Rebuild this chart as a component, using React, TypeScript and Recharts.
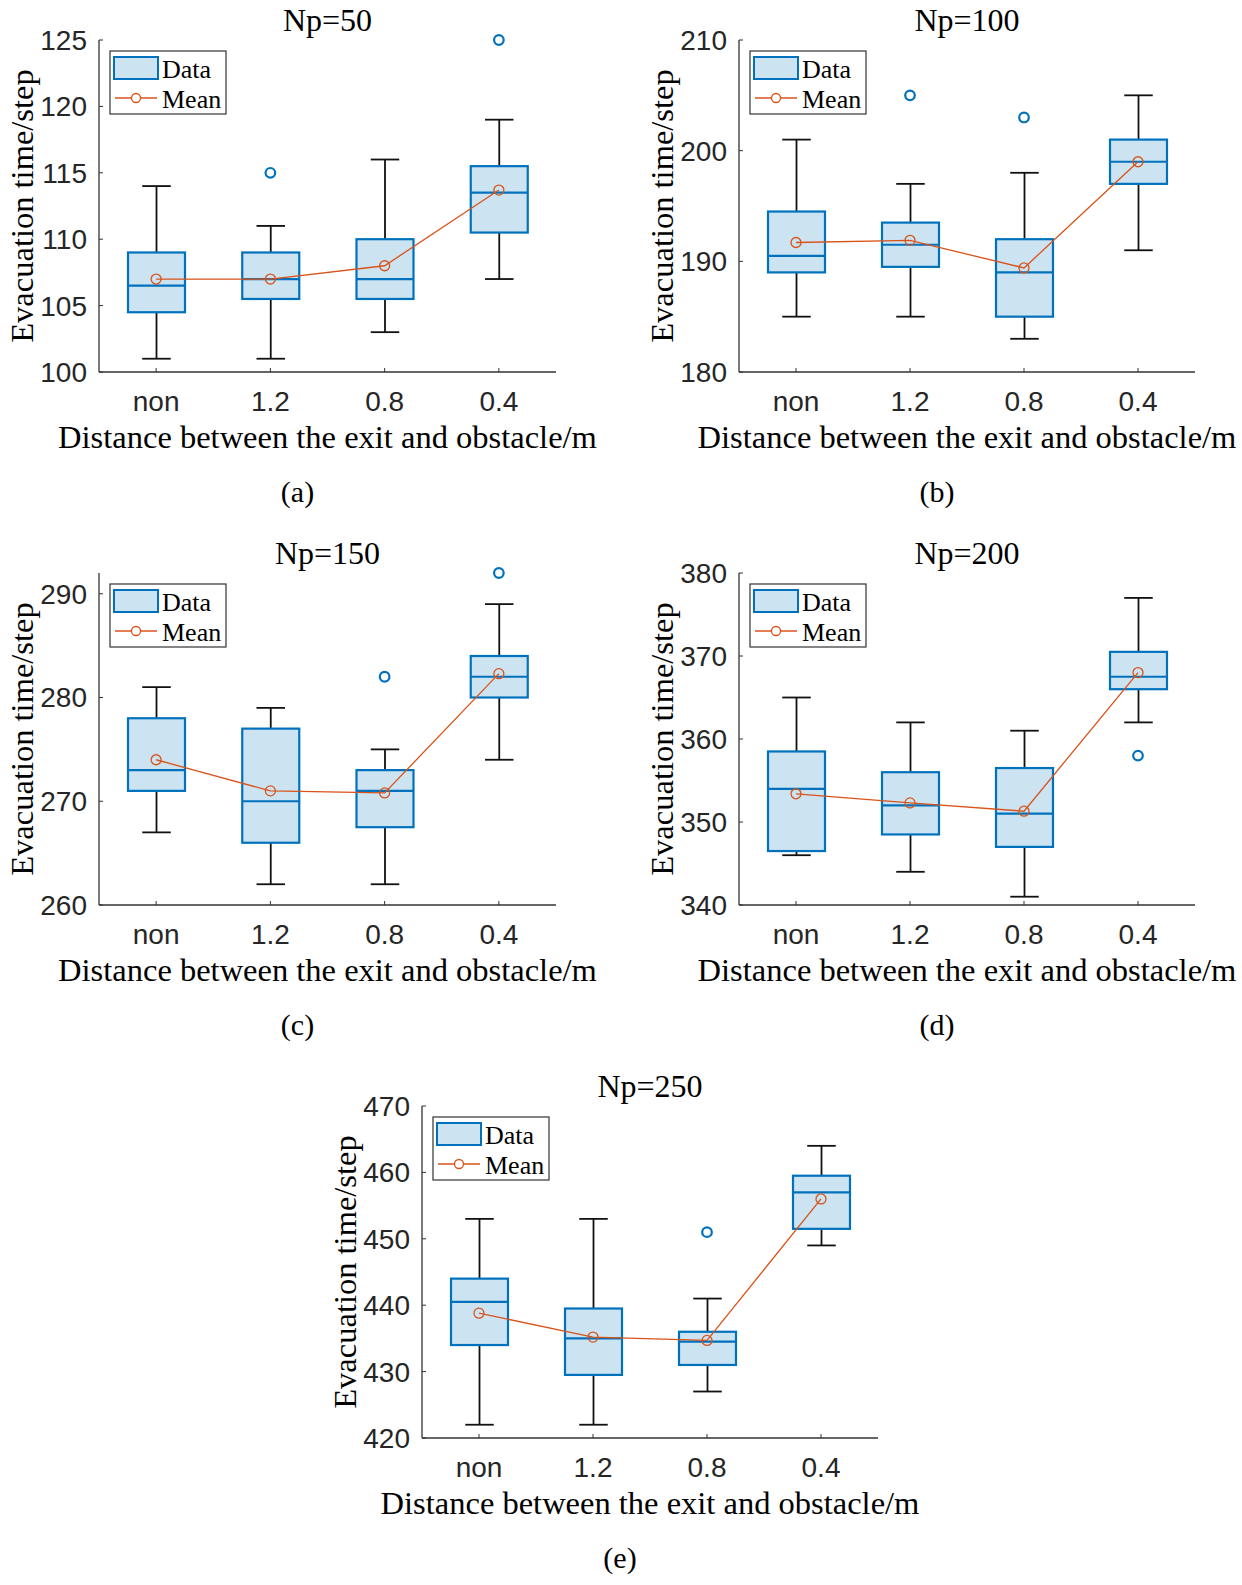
import { ComposedChart, Bar, Line, XAxis, YAxis } from 'recharts'

const CATEGORIES = ['non', '1.2', '0.8', '0.4']

// Np=50
const np50Low = [101, 101, 103, 107]
const np50Q1 = [104.5, 105.5, 105.5, 110.5]
const np50Median = [106.5, 107, 107, 113.5]
const np50Q3 = [109, 109, 110, 115.5]
const np50High = [114, 111, 116, 119]
const np50Mean = [107.0, 107.0, 108.0, 113.7]
const np50Outlier = [null, 115, null, 125]

// Np=100
const np100Low = [185, 185, 183, 191]
const np100Q1 = [189, 189.5, 185, 197]
const np100Median = [190.5, 191.5, 189, 199]
const np100Q3 = [194.5, 193.5, 192, 201]
const np100High = [201, 197, 198, 205]
const np100Mean = [191.7, 191.9, 189.4, 199.0]
const np100Outlier = [null, 205, 203, null]

// Np=150
const np150Low = [267, 262, 262, 274]
const np150Q1 = [271, 266, 267.5, 280]
const np150Median = [273, 270, 271, 282]
const np150Q3 = [278, 277, 273, 284]
const np150High = [281, 279, 275, 289]
const np150Mean = [274.0, 271.0, 270.8, 282.3]
const np150Outlier = [null, null, 282, 292]

// Np=200
const np200Low = [346, 344, 341, 362]
const np200Q1 = [346.5, 348.5, 347, 366]
const np200Median = [354, 352, 351, 367.5]
const np200Q3 = [358.5, 356, 356.5, 370.5]
const np200High = [365, 362, 361, 377]
const np200Mean = [353.4, 352.3, 351.3, 368.0]
const np200Outlier = [null, null, null, 358]

// Np=250
const np250Low = [422, 422, 427, 449]
const np250Q1 = [434, 429.5, 431, 451.5]
const np250Median = [440.5, 435, 434.5, 457]
const np250Q3 = [444, 439.5, 436, 459.5]
const np250High = [453, 453, 441, 464]
const np250Mean = [438.8, 435.2, 434.7, 456.0]
const np250Outlier = [null, null, 451, null]

const np50Ticks = [100, 105, 110, 115, 120, 125]
const np100Ticks = [180, 190, 200, 210]
const np150Ticks = [260, 270, 280, 290]
const np200Ticks = [340, 350, 360, 370, 380]
const np250Ticks = [420, 430, 440, 450, 460, 470]

const BLUE = '#0072BD'
const BOX_FILL = '#cce3f2'
const ORANGE = '#D95319'
const AXIS = '#333333'
const SERIF = '"Liberation Serif", "Times New Roman", serif'
const SANS = '"Liberation Sans", Arial, sans-serif'

const Y_LABEL = 'Evacuation time/step'
const X_LABEL = 'Distance between the exit and obstacle/m'

const panels = [
  {
    title: 'Np=50', caption: '(a)', low: np50Low, q1: np50Q1, med: np50Median, q3: np50Q3,
    high: np50High, mean: np50Mean, out: np50Outlier, domain: [100, 125], ticks: np50Ticks,
    left: 99, top: 40, width: 457, height: 332,
  },
  {
    title: 'Np=100', caption: '(b)', low: np100Low, q1: np100Q1, med: np100Median, q3: np100Q3,
    high: np100High, mean: np100Mean, out: np100Outlier, domain: [180, 210], ticks: np100Ticks,
    left: 739, top: 40, width: 456, height: 332,
  },
  {
    title: 'Np=150', caption: '(c)', low: np150Low, q1: np150Q1, med: np150Median, q3: np150Q3,
    high: np150High, mean: np150Mean, out: np150Outlier, domain: [260, 292], ticks: np150Ticks,
    left: 99, top: 573, width: 457, height: 332,
  },
  {
    title: 'Np=200', caption: '(d)', low: np200Low, q1: np200Q1, med: np200Median, q3: np200Q3,
    high: np200High, mean: np200Mean, out: np200Outlier, domain: [340, 380], ticks: np200Ticks,
    left: 739, top: 573, width: 456, height: 332,
  },
  {
    title: 'Np=250', caption: '(e)', low: np250Low, q1: np250Q1, med: np250Median, q3: np250Q3,
    high: np250High, mean: np250Mean, out: np250Outlier, domain: [420, 470], ticks: np250Ticks,
    left: 422, top: 1106, width: 456, height: 332,
  },
]

type Panel = (typeof panels)[number]

// whiskers, box and median, all placed from the bar's [low, high] extent
function BoxShape(props: any) {
  const { x, y, width, height, payload } = props
  const top = Math.min(y, y + height)
  const span = Math.abs(height)
  const unit = span / (payload.high - payload.low)
  const toY = (v: number) => top + (payload.high - v) * unit
  const cx = x + width / 2
  const cap = width / 4
  const yQ3 = toY(payload.q3)
  const yQ1 = toY(payload.q1)
  const yMed = toY(payload.med)
  const bottom = top + span
  return (
    <g>
      <line x1={cx} x2={cx} y1={top} y2={yQ3} stroke="#111" strokeWidth={1.8} />
      <line x1={cx} x2={cx} y1={yQ1} y2={bottom} stroke="#111" strokeWidth={1.8} />
      <line x1={cx - cap} x2={cx + cap} y1={top} y2={top} stroke="#111" strokeWidth={1.8} />
      <line x1={cx - cap} x2={cx + cap} y1={bottom} y2={bottom} stroke="#111" strokeWidth={1.8} />
      <rect x={x} y={yQ3} width={width} height={yQ1 - yQ3} fill={BOX_FILL} stroke={BLUE} strokeWidth={2.2} />
      <line x1={x} x2={x + width} y1={yMed} y2={yMed} stroke={BLUE} strokeWidth={2.2} />
    </g>
  )
}

function OutlierDot(props: any) {
  const { cx, cy, value, index } = props
  if (value == null || cy == null || isNaN(cy)) return <g key={`o-${index}`} />
  return <circle key={`o-${index}`} cx={cx} cy={cy} r={4.8} fill="none" stroke={BLUE} strokeWidth={2.2} />
}

const ML = 95
const MT = 30
const MR = 20
const MB = 60

function BoxPanel({ p }: { p: Panel }) {
  const data = CATEGORIES.map((cat, i) => ({
    cat,
    range: [p.low[i], p.high[i]],
    low: p.low[i],
    q1: p.q1[i],
    med: p.med[i],
    q3: p.q3[i],
    high: p.high[i],
    mean: p.mean[i],
    out: p.out[i],
  }))

  return (
    <div style={{ position: 'absolute', left: p.left - ML, top: p.top - MT }}>
      <ComposedChart
        width={p.width + ML + MR}
        height={p.height + MT + MB}
        data={data}
        margin={{ top: MT, right: MR, bottom: 0, left: 0 }}
      >
        <XAxis
          dataKey="cat"
          type="category"
          height={MB}
          interval={0}
          tickSize={-4}
          tickMargin={23}
          axisLine={{ stroke: AXIS, strokeWidth: 1.3 }}
          tickLine={{ stroke: AXIS, strokeWidth: 1 }}
          tick={{ fill: '#262626', fontSize: 28, fontFamily: SANS }}
        />
        <YAxis
          type="number"
          width={ML}
          domain={p.domain}
          ticks={p.ticks}
          interval={0}
          tickSize={-4}
          tickMargin={16}
          axisLine={{ stroke: AXIS, strokeWidth: 1.3 }}
          tickLine={{ stroke: AXIS, strokeWidth: 1 }}
          tick={{ fill: '#262626', fontSize: 28, fontFamily: SANS }}
        />
        <Bar dataKey="range" barSize={57} shape={BoxShape} isAnimationActive={false} />
        <Line
          dataKey="mean"
          type="linear"
          stroke={ORANGE}
          strokeWidth={1.3}
          dot={{ r: 5, stroke: ORANGE, strokeWidth: 1.3, fill: 'none' }}
          activeDot={false}
          isAnimationActive={false}
        />
        <Line
          dataKey="out"
          stroke="none"
          dot={OutlierDot}
          activeDot={false}
          connectNulls={false}
          isAnimationActive={false}
        />
      </ComposedChart>
    </div>
  )
}

function PanelText({ p }: { p: Panel }) {
  const cx = p.left + p.width / 2
  const bottom = p.top + p.height
  const lx = p.left + 11
  const ly = p.top + 11
  return (
    <g>
      <text x={cx} y={p.top - 9} textAnchor="middle" fontFamily={SERIF} fontSize={32} fill="#000">
        {p.title}
      </text>
      <text
        x={p.left - 77}
        y={p.top + p.height / 2}
        transform={`rotate(-90 ${p.left - 77} ${p.top + p.height / 2})`}
        textAnchor="middle"
        dominantBaseline="central"
        fontFamily={SERIF}
        fontSize={32.5}
        fill="#000"
      >
        {Y_LABEL}
      </text>
      <text x={cx} y={bottom + 76} textAnchor="middle" fontFamily={SERIF} fontSize={32.5} fill="#000">
        {X_LABEL}
      </text>
      <text x={cx - 30} y={bottom + 130} textAnchor="middle" fontFamily={SERIF} fontSize={30} fill="#000">
        {p.caption}
      </text>
      <g transform={`translate(${lx} ${ly})`}>
        <rect x={0} y={0} width={116} height={63} fill="#fff" stroke="#333" strokeWidth={1.2} />
        <rect x={4} y={6} width={44} height={22} fill={BOX_FILL} stroke={BLUE} strokeWidth={2} />
        <text x={52} y={27} fontFamily={SERIF} fontSize={26} fill="#000">Data</text>
        <line x1={5} x2={47} y1={47} y2={47} stroke={ORANGE} strokeWidth={1.3} />
        <circle cx={26} cy={47} r={4.5} fill="#fff" stroke={ORANGE} strokeWidth={1.3} />
        <text x={52} y={57} fontFamily={SERIF} fontSize={26} fill="#000">Mean</text>
      </g>
    </g>
  )
}

export default function App() {
  return (
    <div style={{ position: 'absolute', left: 0, top: 0, width: 1242, height: 1585, background: '#fff' }}>
      {panels.map((p) => (
        <BoxPanel key={p.title} p={p} />
      ))}
      <svg
        width={1242}
        height={1585}
        style={{ position: 'absolute', left: 0, top: 0, pointerEvents: 'none' }}
      >
        {panels.map((p) => (
          <PanelText key={p.title} p={p} />
        ))}
      </svg>
    </div>
  )
}
